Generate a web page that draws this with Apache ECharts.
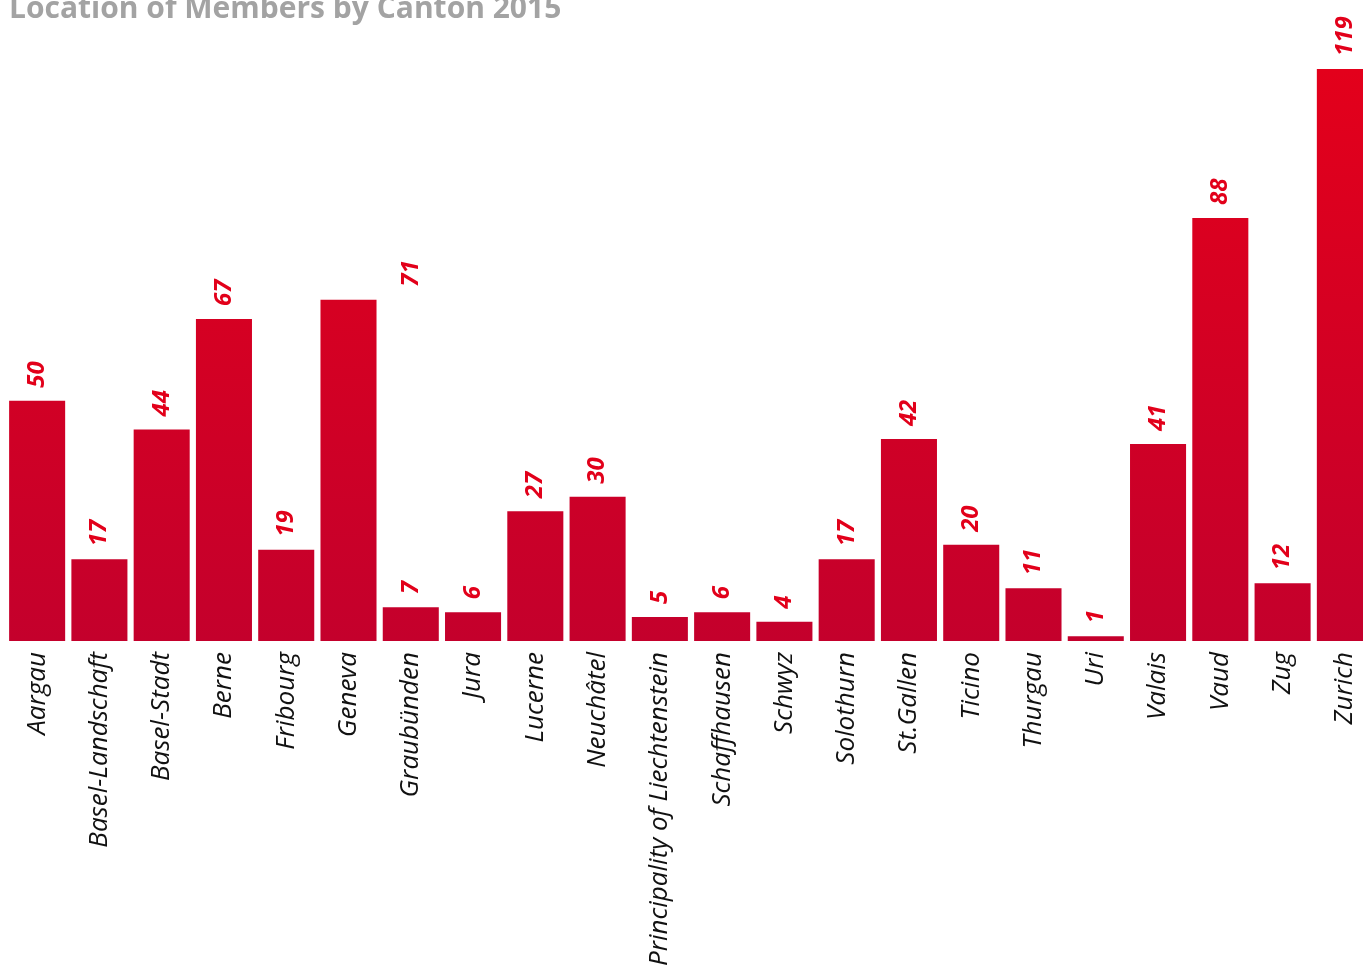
<!DOCTYPE html>
<html>
<head>
<meta charset="utf-8">
<script src="https://cdn.jsdelivr.net/npm/echarts@6/dist/echarts.min.js"></script>
<style>
  html, body { margin: 0; padding: 0; background: #fff; overflow: hidden; }
  #main { width: 1380px; height: 965px; }
</style>
</head>
<body>
<div id="main"></div>
<script>
const cantons = ['Aargau', 'Basel-Landschaft', 'Basel-Stadt', 'Berne', 'Fribourg', 'Geneva',
  'Graubünden', 'Jura', 'Lucerne', 'Neuchâtel', 'Principality of Liechtenstein', 'Schaffhausen',
  'Schwyz', 'Solothurn', 'St.Gallen', 'Ticino', 'Thurgau', 'Uri', 'Valais', 'Vaud', 'Zug', 'Zurich'];
const members = [50, 17, 44, 67, 19, 71, 7, 6, 27, 30, 5, 6, 4, 17, 42, 20, 11, 1, 41, 88, 12, 119];

const chart = echarts.init(document.getElementById('main'));

// the 71 label of Geneva sits over the next column in the original
const data = members.map((v, i) => {
  if (cantons[i] === 'Geneva') return { value: v, label: { offset: [0, 63] } };
  return v;
});

chart.setOption({
  animation: false,
  title: {
    text: 'Location of Members by Canton 2015',
    left: 4,
    top: -11,
    textStyle: { color: '#a3a3a3', fontSize: 30, fontWeight: 'bold', fontFamily: 'Open Sans' }
  },
  grid: { left: 6, top: 69, width: 1370, height: 572, containLabel: false, outerBoundsMode: 'none' },
  xAxis: {
    type: 'category',
    data: cantons,
    axisLine: { show: false },
    axisTick: { show: false },
    axisLabel: {
      rotate: 90,
      interval: 0,
      margin: 11,
      color: '#111',
      fontSize: 26,
      fontStyle: 'italic',
      fontFamily: 'Open Sans'
    }
  },
  yAxis: {
    type: 'value',
    min: 0,
    max: 119,
    show: false,
    splitLine: { show: false }
  },
  series: [{
    type: 'bar',
    data: data,
    barCategoryGap: '10%',
    itemStyle: {
      color: new echarts.graphic.LinearGradient(0, 69, 0, 641, [
        { offset: 0, color: '#e3001b' },
        { offset: 1, color: '#c4002c' }
      ], true)
    },
    label: {
      show: true,
      position: 'top',
      rotate: 90,
      distance: 13,
      align: 'left',
      verticalAlign: 'middle',
      color: '#e2001a',
      fontSize: 24,
      fontWeight: 'bold',
      fontStyle: 'italic',
      fontFamily: 'Open Sans'
    }
  }]
});
</script>
</body>
</html>
